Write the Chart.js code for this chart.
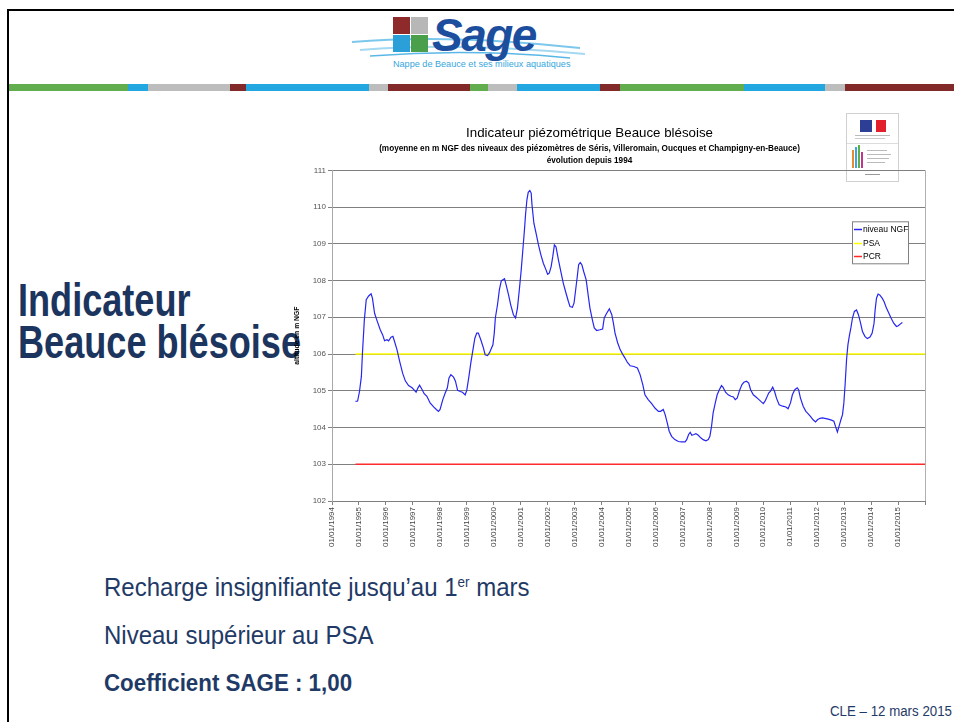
<!DOCTYPE html>
<html lang="fr">
<head>
<meta charset="utf-8">
<title>Indicateur Beauce blésoise</title>
<script src="https://cdn.jsdelivr.net/npm/chart.js@4.4.1/dist/chart.umd.min.js"></script>
<style>
  html, body { margin: 0; padding: 0; background: #fff; }
  body { width: 954px; height: 722px; position: relative; overflow: hidden; font-family: "Liberation Sans", Arial, sans-serif; }
  .narrow { font-family: "Liberation Sans Narrow", "Arial Narrow", "Liberation Sans", sans-serif; }
  #cadre { position: absolute; left: 7px; top: 9px; width: 960px; height: 720px; border-left: 2px solid #000; border-top: 2px solid #000; }
  #bande { position: absolute; left: 9px; top: 84px; height: 7px; width: 945px; display: flex; }
  #bande div { height: 7px; }
  .vert { background: #62ae4f; } .bleu { background: #22a7e0; } .gris { background: #bdbdbd; } .rouge { background: #822a29; }
  #logo { position: absolute; left: 340px; top: 12px; width: 260px; height: 62px; }
  #logo .carre { position: absolute; width: 17px; height: 17px; }
  #logo .sage { position: absolute; left: 92px; top: -4px; font: italic bold 46px "Liberation Sans", Arial, sans-serif; color: #1d4e9e; letter-spacing: -1.5px; }
  #logo .sous { position: absolute; left: 53px; top: 47px; font-size: 9.1px; color: #35a6de; white-space: nowrap; }
  #titre { position: absolute; left: 18px; top: 279px; font-weight: bold; font-size: 46px; line-height: 42px; color: #1c355e; transform: scaleX(0.785); transform-origin: left top; white-space: nowrap; }
  #marianne { position: absolute; left: 846px; top: 113px; width: 51px; height: 67px; border: 1px solid #d0d0d0; background: #fff; }
  #texte { position: absolute; left: 104px; top: 563px; color: #1f3a66; font-size: 25px; }
  #texte p { margin: 0; height: 48px; line-height: 48px; white-space: nowrap; transform-origin: left center; }
  #cle { position: absolute; left: 830px; top: 703px; font-size: 14px; color: #1f3a66; white-space: nowrap; transform: scaleX(0.95); transform-origin: left top; }
  #graphe { position: absolute; left: 254px; top: 118px; }
</style>
</head>
<body>
<div id="cadre"></div>

<div id="logo">
  <svg width="260" height="62" style="position:absolute;left:0;top:0">
    <path d="M12 30 Q 110 22 240 36" stroke="#7cc7ec" stroke-width="2" fill="none"/>
    <path d="M20 38 Q 120 30 245 42" stroke="#a5d9f2" stroke-width="2" fill="none"/>
    <path d="M30 44 Q 130 36 230 46" stroke="#5bb8e6" stroke-width="1.5" fill="none"/>
  </svg>
  <div class="carre" style="left:53px;top:5px;background:#8e2a2a"></div>
  <div class="carre" style="left:71px;top:5px;background:#b7b7b7"></div>
  <div class="carre" style="left:53px;top:23px;background:#2a9fd8"></div>
  <div class="carre" style="left:71px;top:23px;background:#4aa04a"></div>
  <div class="sage">Sage</div>
  <div class="sous">Nappe de Beauce et ses milieux aquatiques</div>
</div>

<div id="bande">
  <div class="vert" style="width:119px"></div>
  <div class="bleu" style="width:20px"></div>
  <div class="gris" style="width:82px"></div>
  <div class="rouge" style="width:16px"></div>
  <div class="bleu" style="width:123px"></div>
  <div class="gris" style="width:19px"></div>
  <div class="rouge" style="width:82px"></div>
  <div class="vert" style="width:18px"></div>
  <div class="gris" style="width:29px"></div>
  <div class="bleu" style="width:83px"></div>
  <div class="rouge" style="width:20px"></div>
  <div class="vert" style="width:124px"></div>
  <div class="bleu" style="width:81px"></div>
  <div class="gris" style="width:20px"></div>
  <div class="rouge" style="width:109px"></div>
</div>

<div id="titre" class="narrow">Indicateur<br>Beauce blésoise</div>

<div id="marianne">
  <div style="position:absolute;left:13px;top:6px;width:12px;height:12px;background:#2d3f95"></div>
  <div style="position:absolute;left:25px;top:6px;width:4px;height:12px;background:#fff"></div>
  <div style="position:absolute;left:29px;top:6px;width:10px;height:12px;background:#e1202c"></div>
  <div style="position:absolute;left:8px;top:21px;width:35px;height:1px;background:#bbb"></div>
  <div style="position:absolute;left:8px;top:24px;width:30px;height:1px;background:#ccc"></div>
  <div style="position:absolute;left:0;top:29px;width:51px;height:1px;background:#ddd"></div>
  <div style="position:absolute;left:5px;top:36px;width:2px;height:18px;background:#e98a2b"></div>
  <div style="position:absolute;left:8px;top:33px;width:2px;height:21px;background:#39a9dc"></div>
  <div style="position:absolute;left:11px;top:31px;width:2px;height:23px;background:#5bb04a"></div>
  <div style="position:absolute;left:14px;top:38px;width:2px;height:16px;background:#c2358c"></div>
  <div style="position:absolute;left:20px;top:36px;width:20px;height:1px;background:#bbb"></div>
  <div style="position:absolute;left:20px;top:40px;width:24px;height:1px;background:#bbb"></div>
  <div style="position:absolute;left:20px;top:44px;width:22px;height:1px;background:#bbb"></div>
  <div style="position:absolute;left:20px;top:48px;width:18px;height:1px;background:#bbb"></div>
  <div style="position:absolute;left:18px;top:60px;width:15px;height:1px;background:#999"></div>
</div>

<canvas id="graphe" width="700" height="445"></canvas>

<div id="texte" class="narrow">
  <p style="transform:scaleX(0.96)">Recharge insignifiante jusqu’au 1<sup style="font-size:14px;line-height:0">er</sup> mars</p>
  <p style="transform:scaleX(0.96)">Niveau supérieur au PSA</p>
  <p style="font-weight:bold;font-size:24px;transform:scaleX(0.93)">Coefficient SAGE : 1,00</p>
</div>
<div id="cle" class="narrow">CLE – 12 mars 2015</div>

<script>
// dates en années décimales, niveaux en m NGF (moyenne des piézomètres)
const dates = [
  1994.87, 1994.95, 1995.02, 1995.09, 1995.13, 1995.20, 1995.27, 1995.36, 1995.45, 1995.50,
  1995.58, 1995.67, 1995.79, 1995.88, 1995.95, 1996.04, 1996.10, 1996.19, 1996.26, 1996.32,
  1996.41, 1996.51, 1996.62, 1996.72, 1996.84, 1996.97, 1997.06, 1997.12, 1997.19, 1997.25,
  1997.33, 1997.42, 1997.52, 1997.64, 1997.77, 1997.87, 1997.95, 1998.01, 1998.11, 1998.20,
  1998.28, 1998.34, 1998.41, 1998.51, 1998.58, 1998.66, 1998.76, 1998.84, 1998.94, 1999.00,
  1999.08, 1999.15, 1999.23, 1999.30, 1999.37, 1999.43, 1999.52, 1999.62, 1999.68, 1999.77,
  1999.84, 1999.97, 2000.02, 2000.06, 2000.14, 2000.21, 2000.28, 2000.34, 2000.40, 2000.46,
  2000.55, 2000.63, 2000.73, 2000.81, 2000.88, 2000.95, 2001.02, 2001.08, 2001.14, 2001.18,
  2001.23, 2001.28, 2001.34, 2001.39, 2001.42, 2001.49, 2001.57, 2001.66, 2001.75, 2001.84,
  2001.94, 2002.00, 2002.06, 2002.13, 2002.19, 2002.25, 2002.31, 2002.40, 2002.49, 2002.58,
  2002.68, 2002.77, 2002.83, 2002.92, 2002.98, 2003.04, 2003.10, 2003.15, 2003.21, 2003.27,
  2003.34, 2003.43, 2003.51, 2003.57, 2003.66, 2003.73, 2003.82, 2003.94, 2004.04, 2004.10,
  2004.19, 2004.29, 2004.38, 2004.44, 2004.50, 2004.60, 2004.69, 2004.77, 2004.87, 2004.96,
  2005.03, 2005.06, 2005.20, 2005.33, 2005.43, 2005.53, 2005.61, 2005.73, 2005.86, 2005.98,
  2006.11, 2006.19, 2006.29, 2006.36, 2006.44, 2006.51, 2006.60, 2006.72, 2006.85, 2006.97,
  2007.10, 2007.16, 2007.23, 2007.29, 2007.35, 2007.43, 2007.50, 2007.59, 2007.68, 2007.77,
  2007.87, 2007.96, 2008.02, 2008.08, 2008.14, 2008.22, 2008.29, 2008.37, 2008.45, 2008.51,
  2008.60, 2008.70, 2008.80, 2008.89, 2008.96, 2009.03, 2009.13, 2009.21, 2009.28, 2009.38,
  2009.46, 2009.53, 2009.63, 2009.73, 2009.81, 2009.91, 2010.00, 2010.06, 2010.12, 2010.20,
  2010.27, 2010.35, 2010.42, 2010.49, 2010.59, 2010.72, 2010.84, 2010.92, 2011.01, 2011.08,
  2011.17, 2011.26, 2011.31, 2011.38, 2011.48, 2011.58, 2011.66, 2011.75, 2011.85, 2011.94,
  2012.01, 2012.10, 2012.20, 2012.28, 2012.41, 2012.53, 2012.62, 2012.68, 2012.75, 2012.81,
  2012.88, 2012.94, 2012.99, 2013.04, 2013.09, 2013.14, 2013.19, 2013.25, 2013.31, 2013.38,
  2013.46, 2013.53, 2013.61, 2013.68, 2013.77, 2013.86, 2013.96, 2014.04, 2014.11, 2014.15,
  2014.20, 2014.26, 2014.32, 2014.41, 2014.48, 2014.57, 2014.66, 2014.74, 2014.84, 2014.94,
  2015.01, 2015.09, 2015.16
];
const niveauNGF = [
  104.71, 104.72, 104.98, 105.39, 106.03, 106.93, 107.48, 107.58, 107.64, 107.52,
  107.11, 106.91, 106.66, 106.52, 106.36, 106.39, 106.36, 106.46, 106.48, 106.34,
  106.12, 105.80, 105.48, 105.27, 105.14, 105.08, 105.01, 104.96, 105.08, 105.15,
  105.05, 104.92, 104.85, 104.67, 104.56, 104.49, 104.44, 104.49, 104.76, 104.94,
  105.08, 105.35, 105.44, 105.37, 105.26, 105.01, 104.98, 104.96, 104.89, 105.01,
  105.39, 105.76, 106.12, 106.43, 106.57, 106.57, 106.39, 106.16, 105.98, 105.96,
  106.03, 106.25, 106.57, 106.98, 107.34, 107.75, 107.99, 108.02, 108.05, 107.88,
  107.61, 107.34, 107.07, 106.98, 107.25, 107.75, 108.29, 108.83, 109.38, 109.79,
  110.19, 110.40, 110.45, 110.38, 110.06, 109.56, 109.29, 108.97, 108.70, 108.47,
  108.29, 108.17, 108.20, 108.38, 108.65, 108.97, 108.92, 108.56, 108.24, 107.93,
  107.66, 107.43, 107.29, 107.27, 107.39, 107.75, 108.11, 108.43, 108.49, 108.43,
  108.24, 108.02, 107.57, 107.25, 106.93, 106.71, 106.64, 106.66, 106.68, 106.98,
  107.11, 107.23, 107.07, 106.84, 106.57, 106.30, 106.12, 106.01, 105.89, 105.77,
  105.71, 105.68, 105.66, 105.62, 105.44, 105.17, 104.89, 104.76, 104.65, 104.53,
  104.44, 104.44, 104.49, 104.35, 104.12, 103.90, 103.76, 103.67, 103.62, 103.61,
  103.61, 103.67, 103.81, 103.87, 103.79, 103.81, 103.83, 103.79, 103.72, 103.67,
  103.64, 103.67, 103.76, 104.03, 104.40, 104.67, 104.89, 105.03, 105.14, 105.09,
  104.96, 104.89, 104.85, 104.83, 104.76, 104.80, 105.03, 105.17, 105.23, 105.26,
  105.21, 105.03, 104.89, 104.83, 104.78, 104.71, 104.65, 104.71, 104.80, 104.94,
  104.99, 105.10, 104.98, 104.80, 104.62, 104.58, 104.56, 104.51, 104.67, 104.89,
  105.03, 105.08, 105.03, 104.80, 104.58, 104.44, 104.38, 104.30, 104.21, 104.15,
  104.21, 104.25, 104.26, 104.25, 104.23, 104.20, 104.17, 104.03, 103.88, 104.03,
  104.21, 104.35, 104.67, 105.21, 105.85, 106.25, 106.48, 106.71, 106.98, 107.16,
  107.20, 107.07, 106.84, 106.61, 106.48, 106.42, 106.46, 106.57, 106.84, 107.20,
  107.52, 107.63, 107.61, 107.52, 107.43, 107.25, 107.11, 106.98, 106.84, 106.75,
  106.77, 106.82, 106.86
];

// seuils PSA et PCR
const seuilDates = [1994.87, 2016];
const psa = [106, 106];
const pcr = [103, 103];

const anneeMin = 1994;
const anneeMax = 2016;
const niveauMin = 102;
const niveauMax = 111;

const police = '"Liberation Sans", Arial, sans-serif';

function enPoints(xs, ys) {
    return xs.map((x, i) => ({ x: x, y: ys[i] }));
}

// légende encadrée dans la zone de tracé, comme sous Excel
const legendeExcel = {
    id: 'legendeExcel',
    afterDraw(chart) {
        const ctx = chart.ctx;
        const area = chart.chartArea;
        const w = 56, h = 42;
        const x = area.right - 73, y = area.top + 51;
        ctx.save();
        ctx.fillStyle = '#fff';
        ctx.fillRect(x, y, w, h);
        ctx.strokeStyle = '#808080';
        ctx.lineWidth = 1;
        ctx.strokeRect(x + 0.5, y + 0.5, w, h);
        ctx.font = '8.5px ' + police;
        ctx.textBaseline = 'middle';
        chart.data.datasets.forEach((ds, i) => {
            const ly = Math.round(y + 8 + i * 13.3) + 0.5;
            ctx.strokeStyle = ds.borderColor;
            ctx.lineWidth = 1.5;
            ctx.beginPath();
            ctx.moveTo(x + 2, ly);
            ctx.lineTo(x + 10, ly);
            ctx.stroke();
            ctx.fillStyle = '#000';
            ctx.fillText(ds.label, x + 11, ly);
        });
        ctx.restore();
    }
};

// bord droit de la zone de tracé
const bordDroit = {
    id: 'bordDroit',
    beforeDatasetsDraw(chart) {
        const ctx = chart.ctx;
        const a = chart.chartArea;
        ctx.save();
        ctx.strokeStyle = '#b0b0b0';
        ctx.lineWidth = 1;
        ctx.beginPath();
        ctx.moveTo(Math.round(a.right) + 0.5, a.top);
        ctx.lineTo(Math.round(a.right) + 0.5, a.bottom);
        ctx.stroke();
        ctx.restore();
    }
};

new Chart(document.getElementById('graphe'), {
    type: 'line',
    data: {
        datasets: [
            { label: 'niveau NGF', data: enPoints(dates, niveauNGF), borderColor: '#2626f0', borderWidth: 1.2 },
            { label: 'PSA', data: enPoints(seuilDates, psa), borderColor: '#ffff00', borderWidth: 1.6 },
            { label: 'PCR', data: enPoints(seuilDates, pcr), borderColor: '#ff2a2a', borderWidth: 1.6 }
        ]
    },
    options: {
        responsive: false,
        animation: false,
        devicePixelRatio: 1,
        elements: { point: { radius: 0 }, line: { tension: 0 } },
        layout: { padding: { top: 7, left: 0, right: 29, bottom: 0 } },
        plugins: {
            legend: { display: false },
            tooltip: { enabled: false },
            title: {
                display: true,
                text: 'Indicateur piézométrique Beauce blésoise',
                color: '#000',
                font: { family: police, size: 13.3, weight: 'normal', lineHeight: 1.2 },
                padding: { top: 0, bottom: 2 }
            },
            subtitle: {
                display: true,
                text: [
                    '(moyenne en m NGF des niveaux des piézomètres de Séris, Villeromain, Oucques et Champigny-en-Beauce)',
                    'évolution depuis 1994'
                ],
                color: '#000',
                font: { family: police, size: 8.2, weight: 'bold', lineHeight: 1.46 },
                padding: { top: 0, bottom: 3.4 }
            }
        },
        scales: {
            x: {
                type: 'linear',
                min: anneeMin,
                max: anneeMax,
                afterFit: (scale) => { scale.height = 62; },
                ticks: {
                    stepSize: 1,
                    autoSkip: false,
                    maxRotation: 90,
                    minRotation: 90,
                    padding: 2,
                    color: '#444',
                    font: { family: police, size: 8 },
                    callback: (v) => v < anneeMax ? '01/01/' + v : ''
                },
                grid: { drawOnChartArea: false, drawTicks: true, tickLength: 4, color: '#808080' },
                border: { color: '#808080' }
            },
            y: {
                min: niveauMin,
                max: niveauMax,
                afterFit: (scale) => { scale.width = 78; },
                ticks: {
                    stepSize: 1,
                    padding: 2,
                    color: '#555',
                    font: { family: police, size: 8 }
                },
                grid: { color: '#808080', tickLength: 4, drawTicks: true },
                border: { color: '#a8a8a8' },
                title: {
                    display: true,
                    text: 'altitude en m NGF',
                    color: '#000',
                    font: { family: police, size: 6.8, weight: 'bold' },
                    padding: { top: 39, bottom: 0 }
                }
            }
        }
    },
    plugins: [bordDroit, legendeExcel]
});
</script>
</body>
</html>
